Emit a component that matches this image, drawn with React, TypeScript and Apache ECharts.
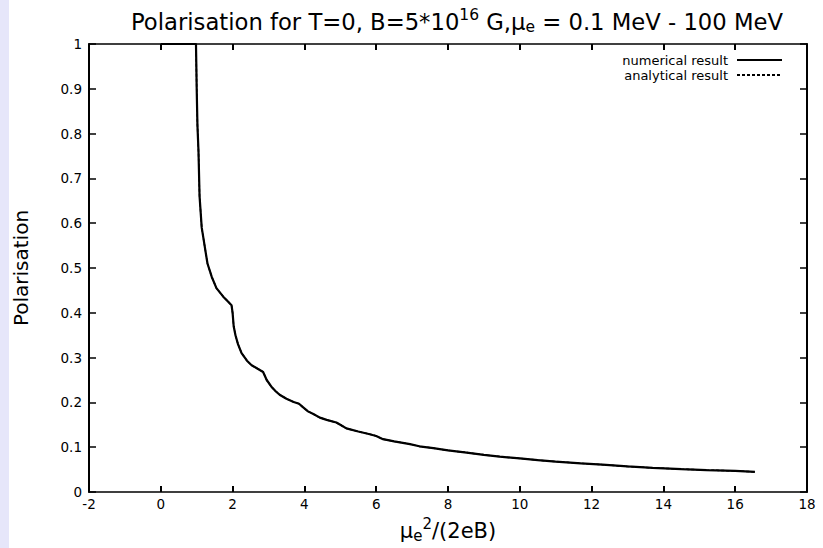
import React, { useEffect, useRef } from "react";
import * as echarts from "echarts";

const xValues = [
  0, 0.98, 1.0, 1.02, 1.05, 1.08, 1.14, 1.2, 1.3, 1.42, 1.55, 1.65, 1.74, 1.85, 1.97, 2.0, 2.03, 2.08,
  2.15, 2.25, 2.4, 2.53, 2.7, 2.85, 2.95, 3.08, 3.2, 3.31, 3.5, 3.7, 3.85, 3.95, 4.1, 4.25, 4.43,
  4.62, 4.89, 5.0, 5.17, 5.5, 5.82, 6.0, 6.19, 6.5, 6.94, 7.2, 7.59, 8.0, 8.52, 9.0, 9.44, 10, 10.5,
  11, 11.7, 12.3, 13.0, 13.7, 14.5, 15.2, 16.0, 16.55,
];
const numerical = [
  1, 1, 0.9, 0.82, 0.76, 0.66, 0.59, 0.56, 0.51, 0.48, 0.455, 0.445, 0.436, 0.427, 0.417, 0.4, 0.37,
  0.35, 0.33, 0.31, 0.293, 0.283, 0.275, 0.268, 0.25, 0.235, 0.225, 0.217, 0.208, 0.201, 0.197, 0.19,
  0.18, 0.174, 0.166, 0.161, 0.155, 0.15, 0.142, 0.135, 0.129, 0.125, 0.118, 0.113, 0.107, 0.102,
  0.098, 0.093, 0.088, 0.083, 0.079, 0.075, 0.071, 0.068, 0.064, 0.061, 0.057, 0.054, 0.051, 0.049,
  0.047, 0.045,
];
const analytical = [
  1, 1, 0.9, 0.82, 0.76, 0.66, 0.59, 0.56, 0.51, 0.48, 0.455, 0.445, 0.436, 0.427, 0.417, 0.4, 0.37,
  0.35, 0.33, 0.31, 0.293, 0.283, 0.275, 0.268, 0.25, 0.235, 0.225, 0.217, 0.208, 0.201, 0.197, 0.19,
  0.18, 0.174, 0.166, 0.161, 0.155, 0.15, 0.142, 0.135, 0.129, 0.125, 0.118, 0.113, 0.107, 0.102,
  0.098, 0.093, 0.088, 0.083, 0.079, 0.075, 0.071, 0.068, 0.064, 0.061, 0.057, 0.054, 0.051, 0.049,
  0.047, 0.045,
];
const seriesNames = ["numerical result", "analytical result"];

const FONT = "DejaVu Sans, Liberation Sans, Arial, sans-serif";

export default function App() {
  const ref = useRef<HTMLDivElement>(null);
  useEffect(() => {
    if (!ref.current) return;
    const chart = echarts.init(ref.current, null, { renderer: "svg" });
    const lineCol = { color: "#000", width: 1.5 };
    const yCommon = {
      type: "value",
      min: 0,
      max: 1,
      interval: 0.1,
      axisLine: { show: true, onZero: false, lineStyle: { color: "#000", width: 2 } },
      axisTick: { show: true, inside: true, length: 7, lineStyle: { color: "#000", width: 1.5 } },
      splitLine: { show: false },
    };
    const xCommon = {
      type: "value",
      min: -2,
      max: 18,
      interval: 2,
      axisLine: { show: true, onZero: false, lineStyle: lineCol },
      axisTick: { show: true, inside: true, length: 6, lineStyle: { color: "#000", width: 2 } },
      splitLine: { show: false },
    };
    chart.setOption({
      animation: false,
      backgroundColor: "#fff",
      textStyle: { fontFamily: FONT },
      title: {
        text: "Polarisation for T=0, B=5*10{sup|16} G,μ{sub|e} = 0.1 MeV - 100 MeV",
        left: 126,
        top: 2,
        textStyle: {
          fontFamily: FONT,
          fontSize: 22.7,
          fontWeight: "normal",
          color: "#000",
          lineHeight: 30,
          rich: {
            sup: { fontSize: 15.5, fontFamily: FONT, color: "#000", lineHeight: 30, padding: [0, 0, 14, 0], verticalAlign: "bottom" },
            sub: { fontSize: 15.5, fontFamily: FONT, color: "#000", lineHeight: 30, padding: [12, 0, 0, 0], verticalAlign: "top" },
          },
        },
      },
      legend: {
        orient: "vertical",
        right: 35,
        top: 48,
        align: "right",
        itemWidth: 45,
        itemHeight: 10,
        itemGap: 1,
        data: seriesNames,
        itemStyle: { opacity: 0 },
        textStyle: { fontFamily: FONT, fontSize: 13, color: "#000", padding: [0, 4, 0, 0], lineHeight: 14 },
      },
      grid: { left: 89, right: 16, top: 44, bottom: 56, outerBoundsMode: "none", containLabel: false },
      xAxis: [
        {
          ...xCommon,
          position: "bottom",
          name: "μ{sub|e}{sup|2}/(2eB)",
          nameLocation: "middle",
          nameGap: 20,
          nameTextStyle: {
            fontFamily: FONT,
            fontSize: 21,
            color: "#000",
            lineHeight: 30,
            rich: {
              sub: { fontSize: 15, fontFamily: FONT, color: "#000", lineHeight: 30, padding: [13, 0, 0, 0], verticalAlign: "top" },
              sup: { fontSize: 15, fontFamily: FONT, color: "#000", lineHeight: 30, padding: [0, 0, 14, 0], verticalAlign: "bottom" },
            },
          },
          axisLabel: { fontFamily: FONT, fontSize: 13.5, color: "#000", margin: 5 },
        },
        {
          ...xCommon,
          position: "top",
          axisLabel: { show: false },
        },
      ],
      yAxis: [
        {
          ...yCommon,
          position: "left",
          name: "Polarisation",
          nameLocation: "middle",
          nameGap: 58,
          nameTextStyle: { fontFamily: FONT, fontSize: 20, color: "#000" },
          axisLabel: { fontFamily: FONT, fontSize: 13.5, color: "#000", margin: 7 },
        },
        {
          ...yCommon,
          position: "right",
          axisLabel: { show: false },
        },
      ],
      graphic: [
        {
          type: "rect",
          left: 0,
          top: 0,
          shape: { width: 9, height: 548 },
          style: { fill: "#e6e6fa" },
        },
      ],
      series: [
        {
          name: seriesNames[0],
          type: "line",
          xAxisIndex: 0,
          yAxisIndex: 0,
          showSymbol: false,
          symbol: "none",
          smooth: false,
          lineStyle: { color: "#000", width: 2.2, type: "solid" },
          itemStyle: { color: "#000" },
          data: xValues.map((x, i) => [x, numerical[i]]),
        },
        {
          name: seriesNames[1],
          type: "line",
          xAxisIndex: 0,
          yAxisIndex: 0,
          showSymbol: false,
          symbol: "none",
          smooth: false,
          lineStyle: { color: "#000", width: 1.5, type: [3, 2] },
          itemStyle: { color: "#000" },
          data: xValues.map((x, i) => [x, analytical[i]]),
        },
      ],
    });
    return () => chart.dispose();
  }, []);
  return (
    <div
      ref={ref}
      style={{ position: "fixed", left: 0, top: 0, width: 823, height: 548 }}
    />
  );
}
